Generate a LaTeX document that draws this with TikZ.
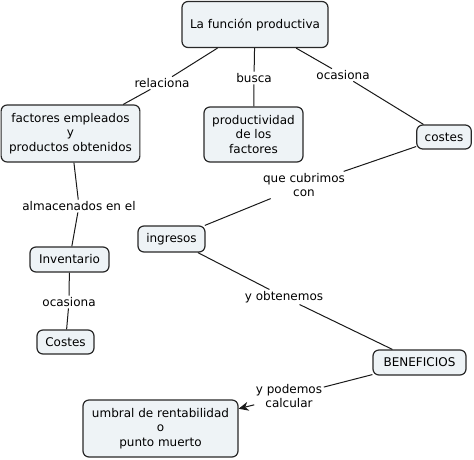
\documentclass[tikz,border=0pt]{standalone}
\usepackage{fontspec}
\usetikzlibrary{arrows.meta}
\setmainfont{DejaVu Sans}
\definecolor{boxfill}{RGB}{238,243,246}
\definecolor{boxline}{RGB}{40,40,40}
\begin{document}
\begin{tikzpicture}[>=stealth,x=1pt,y=-1pt,
    concept/.style={draw=boxline,fill=boxfill,line width=1.2pt,rounded corners=6pt,align=center,inner xsep=8pt,inner ysep=5pt,font=\fontsize{12}{14.5}\selectfont},
    link/.style={align=center,inner sep=1.5pt,font=\fontsize{12}{14.5}\selectfont},
    conn/.style={line width=1pt,draw=black!90}]
    \useasboundingbox (0,0) rectangle (474,459);
    % concepts
    \node[concept,minimum width=146pt,minimum height=46pt] (funcion) at (255,24.5) {La función productiva};
    \node[concept,minimum width=137pt,minimum height=57pt] (factores) at (70.5,133.5) {factores empleados\\y\\productos obtenidos};
    \node[concept,minimum width=99pt,minimum height=55pt] (product) at (253.5,134.5) {productividad\\de los\\factores};
    \node[concept,minimum width=54pt,minimum height=24pt] (costes) at (444,137) {costes};
    \node[concept,minimum width=67pt,minimum height=26pt] (ingresos) at (171.5,239) {ingresos};
    \node[concept,minimum width=79pt,minimum height=25pt] (inventario) at (69.5,259.5) {Inventario};
    \node[concept,minimum width=57pt,minimum height=24pt] (costesinv) at (65.5,342) {Costes};
    \node[concept,minimum width=93pt,minimum height=25pt] (beneficios) at (419.5,362.5) {BENEFICIOS};
    \node[concept,minimum width=155pt,minimum height=57pt] (umbral) at (160.5,428.5) {umbral de rentabilidad\\o\\punto muerto};
    % linking phrases
    \node[link] (relaciona) at (162,83) {relaciona};
    \node[link] (busca) at (254,78) {busca};
    \node[link] (ocasiona) at (343,75) {ocasiona};
    \node[link] (cubrimos) at (304,185) {que cubrimos\\con};
    \node[link] (almacen) at (79,206) {almacenados en el};
    \node[link] (ocasinv) at (69,302) {ocasiona};
    \node[link] (obtenemos) at (284,297) {y obtenemos};
    \node[link] (podemos) at (289,396) {y podemos\\calcular};
    % connectors
    \draw[conn] (funcion) -- (relaciona) -- (factores);
    \draw[conn] (funcion) -- (busca) -- (product);
    \draw[conn] (funcion) -- (ocasiona) -- (costes);
    \draw[conn] (costes) -- (cubrimos) -- (ingresos);
    \draw[conn] (factores) -- (almacen) -- (inventario);
    \draw[conn] (inventario) -- (ocasinv) -- (costesinv);
    \draw[conn] (ingresos) -- (obtenemos) -- (beneficios);
    \draw[conn] (beneficios) -- (podemos);
    \draw[conn,->,>={Stealth[length=10pt,width=9pt]}] (podemos) -- (umbral);
\end{tikzpicture}
\end{document}
